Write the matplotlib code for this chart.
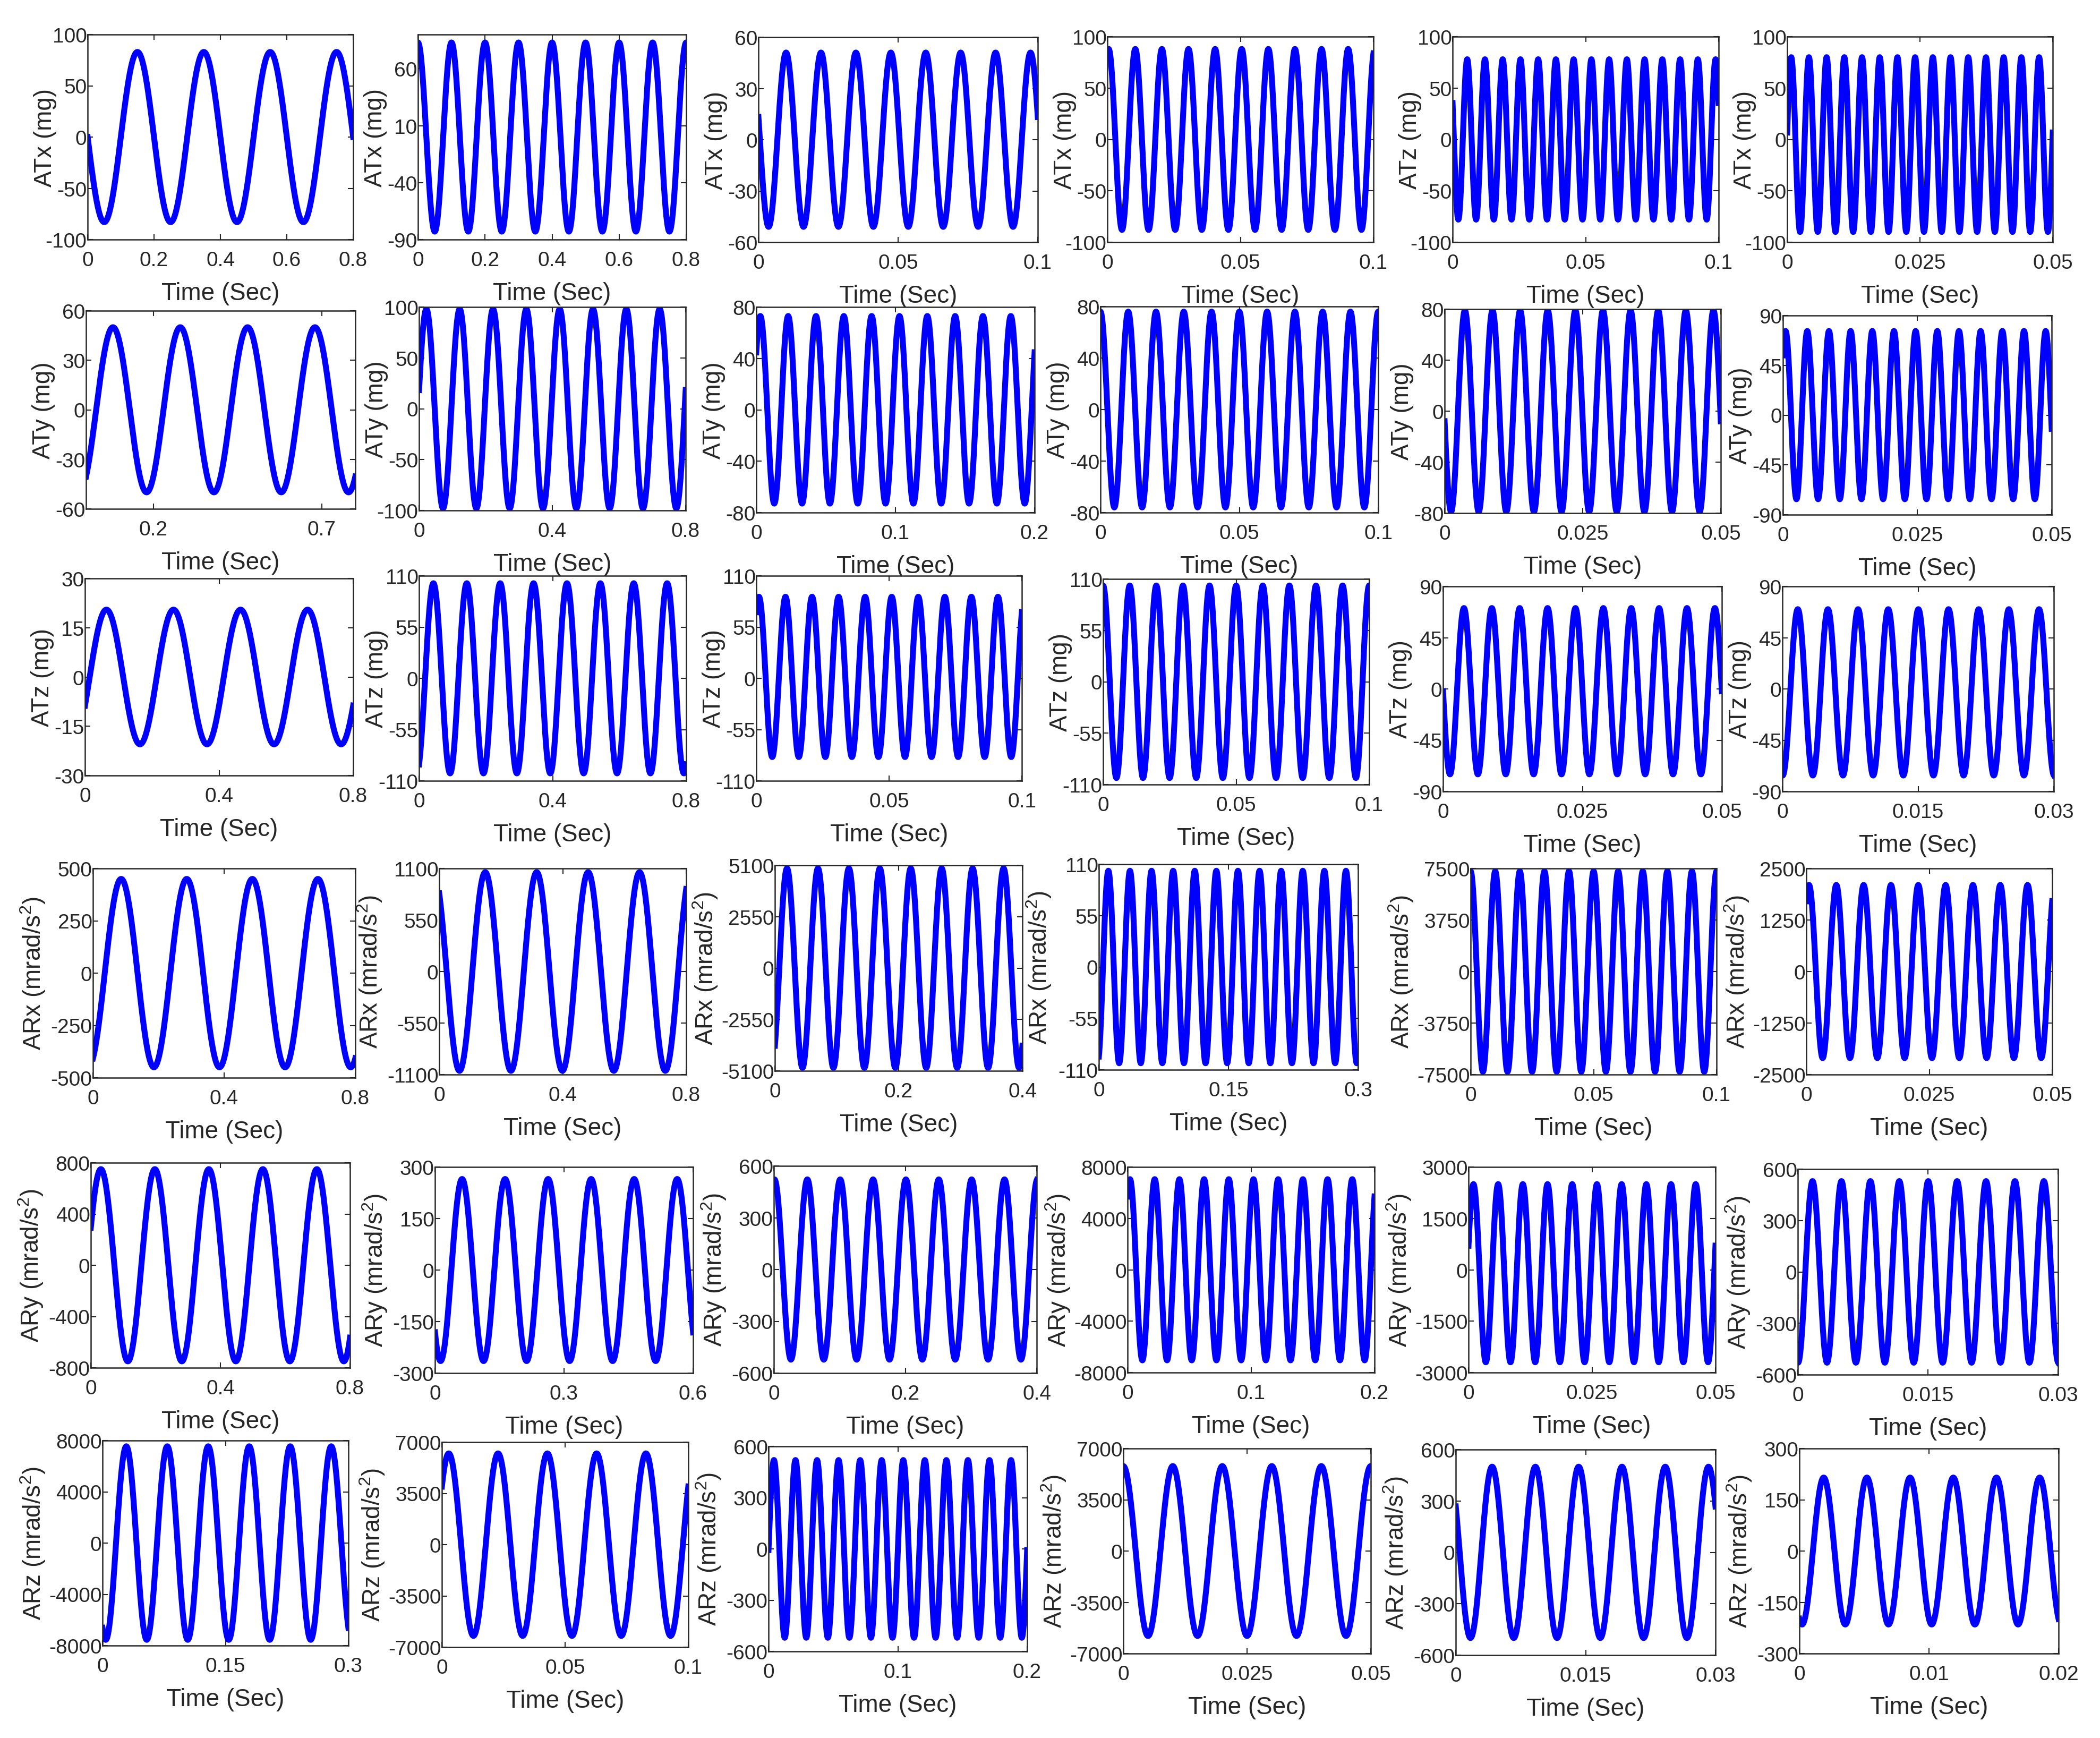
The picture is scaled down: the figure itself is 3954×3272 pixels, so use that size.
import matplotlib
matplotlib.use('Agg')
import matplotlib.pyplot as plt
import numpy as np

plt.rcParams['font.family'] = ['Liberation Sans', 'DejaVu Sans']
plt.rcParams['axes.unicode_minus'] = False
plt.rcParams['mathtext.default'] = 'regular'

# 36 panels, read row by row (6 x 6)
channel = ['ATx', 'ATx', 'ATx', 'ATx', 'ATz', 'ATx',
           'ATy', 'ATy', 'ATy', 'ATy', 'ATy', 'ATy',
           'ATz', 'ATz', 'ATz', 'ATz', 'ATz', 'ATz',
           'ARx', 'ARx', 'ARx', 'ARx', 'ARx', 'ARx',
           'ARy', 'ARy', 'ARy', 'ARy', 'ARy', 'ARy',
           'ARz', 'ARz', 'ARz', 'ARz', 'ARz', 'ARz']

# y axis: symmetric limit and tick step
y_max = [100, 90, 60, 100, 100, 100,
         60, 100, 80, 80, 80, 90,
         30, 110, 110, 110, 90, 90,
         500, 1100, 5100, 110, 7500, 2500,
         800, 300, 600, 8000, 3000, 600,
         8000, 7000, 600, 7000, 600, 300]
y_step = [50, 50, 30, 50, 50, 50,
          30, 50, 40, 40, 40, 45,
          15, 55, 55, 55, 45, 45,
          250, 550, 2550, 55, 3750, 1250,
          400, 150, 300, 4000, 1500, 300,
          4000, 3500, 300, 3500, 300, 150]

# x axis: end time (s) and tick positions
x_max = [0.8, 0.8, 0.1, 0.1, 0.1, 0.05,
         0.8, 0.8, 0.2, 0.1, 0.05, 0.05,
         0.8, 0.8, 0.1, 0.1, 0.05, 0.03,
         0.8, 0.8, 0.4, 0.3, 0.1, 0.05,
         0.8, 0.6, 0.4, 0.2, 0.05, 0.03,
         0.3, 0.1, 0.2, 0.05, 0.03, 0.02]
x_ticks = [[0, 0.2, 0.4, 0.6, 0.8], [0, 0.2, 0.4, 0.6, 0.8], [0, 0.05, 0.1],
           [0, 0.05, 0.1], [0, 0.05, 0.1], [0, 0.025, 0.05],
           [0.2, 0.7], [0, 0.4, 0.8], [0, 0.1, 0.2],
           [0, 0.05, 0.1], [0, 0.025, 0.05], [0, 0.025, 0.05],
           [0, 0.4, 0.8], [0, 0.4, 0.8], [0, 0.05, 0.1],
           [0, 0.05, 0.1], [0, 0.025, 0.05], [0, 0.015, 0.03],
           [0, 0.4, 0.8], [0, 0.4, 0.8], [0, 0.2, 0.4],
           [0, 0.15, 0.3], [0, 0.05, 0.1], [0, 0.025, 0.05],
           [0, 0.4, 0.8], [0, 0.3, 0.6], [0, 0.2, 0.4],
           [0, 0.1, 0.2], [0, 0.025, 0.05], [0, 0.015, 0.03],
           [0, 0.15, 0.3], [0, 0.05, 0.1], [0, 0.1, 0.2],
           [0, 0.025, 0.05], [0, 0.015, 0.03], [0, 0.01, 0.02]]

# signal: peak amplitude, frequency (Hz), time of first peak (s), mean
amplitude = [83, 83, 51, 88, 78, 85,
             50, 98, 73, 76, 79, 76,
             20.5, 102, 86, 103, 73, 73,
             450, 1060, 4950, 103, 7300, 2100,
             750, 265, 522, 7050, 2600, 530,
             7550, 6230, 520, 5800, 500, 215]
freq_hz = [5, 10, 80, 100, 150, 300,
           5, 10, 50, 100, 200, 248,
           5, 10, 100, 100, 200, 300,
           5, 6, 20, 40, 100, 180,
           6, 10, 20, 50, 200, 300,
           20, 50, 60, 100, 200, 300]
first_peak = [0.15, 0.0, 0.0099, 0.0005, 0.0055, 0.00076,
              0.08, 0.022, 0.0029, 0.0, 0.00367, 0.0005,
              0.064, 0.043, 0.001, 0.0, 0.00375, 0.0017,
              0.086, 0.149, 0.0196, 0.011, 0.0, 0.00055,
              0.031, 0.063, 0.001, 0.002, 0.001, 0.0017,
              0.029, 0.0028, 0.0042, 0.0, 0.0042, 0.001875]
mean_level = [0, 0, 0, 0, 0, -5,
              0, 0, 0, 0, 0, 0,
              0, 0, 1.5, 0, -2, -3,
              0, 0, 0, 0, 0, 0,
              0, 0, 0, 0, -100, 0,
              0, 0, 0, 0, 0, 0]

# axes boxes in pixels (left, top, right, bottom)
boxes = [(165, 66, 665, 452), (787, 66, 1292, 452), (1428, 71, 1954, 457),
         (2085, 70, 2586, 457), (2735, 70, 3236, 457), (3365, 70, 3865, 457),
         (162, 586, 669, 959), (789, 579, 1291, 962), (1424, 579, 1948, 966),
         (2072, 578, 2595, 966), (2720, 583, 3240, 967), (3357, 595, 3863, 970),
         (160, 1090, 665, 1461), (789, 1085, 1292, 1471), (1424, 1085, 1924, 1471),
         (2077, 1091, 2578, 1478), (2717, 1105, 3242, 1491), (3356, 1105, 3867, 1491),
         (175, 1636, 669, 2030), (827, 1636, 1292, 2024), (1459, 1630, 1925, 2017),
         (2069, 1628, 2557, 2015), (2769, 1636, 3232, 2024), (3401, 1636, 3864, 2024),
         (171, 2190, 659, 2576), (819, 2198, 1305, 2586), (1457, 2196, 1952, 2586),
         (2123, 2198, 2588, 2585), (2765, 2198, 3230, 2585), (3385, 2202, 3875, 2589),
         (193, 2713, 656, 3099), (832, 2716, 1296, 3102), (1447, 2724, 1934, 3110),
         (2115, 2728, 2581, 3114), (2741, 2730, 3230, 3117), (3388, 2728, 3876, 3114)]

W, H = 3954, 3273
ink = '#262626'

fig = plt.figure(figsize=(W / 100, H / 100), dpi=100)

for i in range(36):
    x0, y0, x1, y1 = boxes[i]
    w_px, h_px = x1 - x0, y1 - y0
    ax = fig.add_axes([x0 / W, 1 - y1 / H, w_px / W, h_px / H])

    t = np.linspace(0, x_max[i], 4000)
    y = mean_level[i] + amplitude[i] * np.cos(2 * np.pi * freq_hz[i] * (t - first_peak[i]))
    ax.plot(t, y, color='#0000ff', lw=8, solid_joinstyle='round')

    ax.set_xlim(0, x_max[i])
    ax.set_ylim(-y_max[i], y_max[i])
    yt = np.arange(-y_max[i], y_max[i] + 1e-9, y_step[i])
    ylabels = [f'{v:g}' for v in yt]
    ax.set_yticks(yt)
    ax.set_yticklabels(ylabels)
    ax.set_xticks(x_ticks[i])
    ax.set_xticklabels([f'{v:g}' for v in x_ticks[i]])

    ax.tick_params(direction='in', length=7, width=1.5, top=True, right=True,
                   labelsize=28, color=ink, labelcolor=ink)
    ax.tick_params(axis='x', pad=15)
    ax.tick_params(axis='y', pad=1)
    for s in ax.spines.values():
        s.set_linewidth(1.8)
        s.set_color(ink)

    if i < 18:
        ax.set_ylabel(channel[i] + ' (mg)', fontsize=33, color=ink)
        gap = 58
    else:
        ax.set_ylabel(channel[i] + ' (mrad/s$^{2}$)', fontsize=33, color=ink)
        widest = max(len(s) for s in ylabels)
        gap = 104 if widest >= 5 else 86
    ax.yaxis.set_label_coords(-gap / w_px, 0.5)
    ax.set_xlabel('Time (Sec)', fontsize=33, color=ink)
    ax.xaxis.set_label_coords(0.5, -79 / h_px)

fig.savefig('out.png', dpi=100)
